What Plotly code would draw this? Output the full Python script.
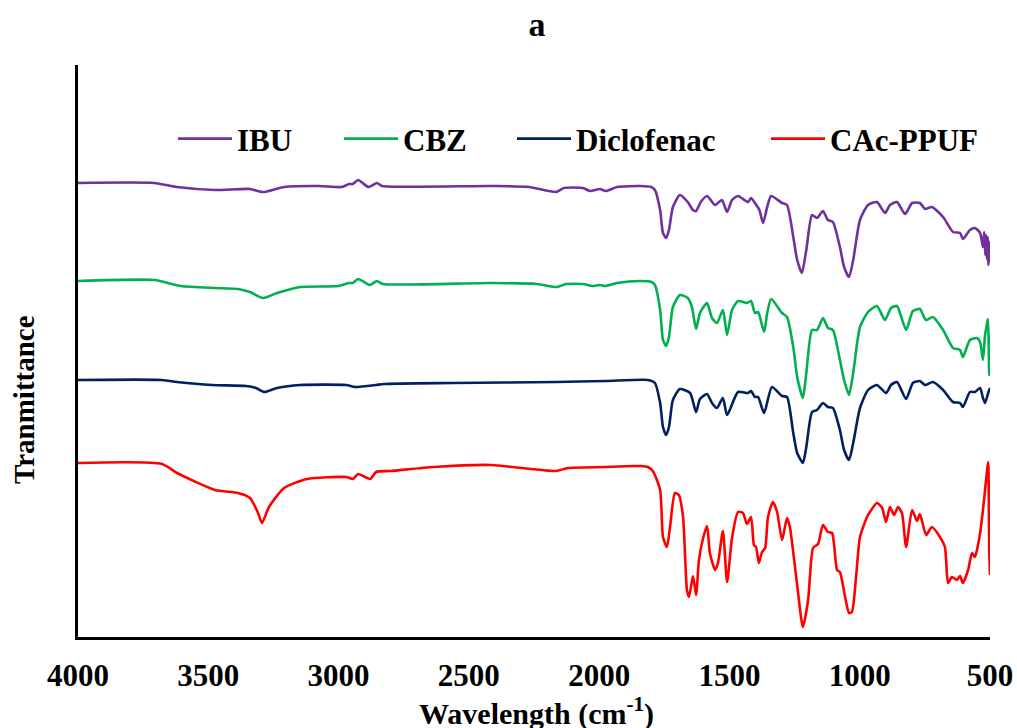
import plotly.graph_objects as go

# ---------------- data ----------------
ibu_wn = [4000, 3708, 3620, 3474, 3340, 3290, 3209, 3075, 2987, 2960, 2945, 2925, 2885, 2853, 2833,
          2415, 2269, 2166, 2135, 2062, 2035, 1997, 1974, 1931, 1843, 1800, 1786, 1766, 1755, 1743,
          1732, 1717, 1690, 1660, 1640, 1628, 1610, 1586, 1555, 1529, 1509, 1490, 1467, 1429, 1417,
          1402, 1385, 1371, 1355, 1340, 1298, 1279, 1255, 1240, 1222, 1205, 1183, 1164, 1141, 1122,
          1103, 1076, 1060, 1041, 1025, 999, 968, 934, 903, 884, 857, 826, 799, 769, 749, 723, 680,
          642, 615, 604, 577, 558, 538, 527, 522, 518, 515, 512, 509, 506, 503, 500]
ibu_t = [454, 454, 450, 447, 448, 445, 450, 451, 450, 453, 453, 457, 450, 454, 451,
         451, 450, 445, 449, 449, 446, 448, 446, 450, 451, 450, 447, 427, 404, 399,
         407, 430, 442, 435, 427, 426, 435, 441, 432, 437, 425, 437, 441, 435, 439,
         434, 427, 414, 430, 441, 434, 432, 400, 377, 364, 387, 422, 419, 426, 417,
         415, 390, 370, 360, 377, 417, 432, 435, 424, 432, 435, 423, 434, 434, 428, 430, 420,
         405, 404, 398, 407, 409, 404, 390, 405, 382, 402, 378, 400, 372, 395, 375]

cbz_wn = [4000, 3708, 3605, 3474, 3386, 3340, 3290, 3236, 3148, 3002, 2960, 2945, 2925, 2880, 2853,
          2830, 2415, 2239, 2162, 2127, 2062, 2027, 1997, 1978, 1931, 1843, 1800, 1786, 1766, 1755,
          1743, 1732, 1717, 1690, 1660, 1644, 1628, 1613, 1586, 1567, 1548, 1525, 1509, 1490, 1467,
          1433, 1417, 1402, 1390, 1367, 1355, 1340, 1298, 1279, 1255, 1240, 1218, 1205, 1183, 1164,
          1141, 1122, 1103, 1076, 1060, 1041, 1025, 999, 968, 934, 903, 880, 857, 822, 796, 769,
          746, 719, 680, 642, 615, 604, 577, 550, 538, 527, 519, 511, 508, 505, 503, 501, 500]
cbz_t = [356, 357, 351, 349, 348, 345, 339, 344, 350, 351, 354, 354, 358, 352, 356,
         353, 354, 353, 350, 353, 353, 351, 352, 351, 354, 356, 355, 352, 327, 297,
         291, 300, 330, 342, 339, 330, 308, 324, 334, 319, 314, 327, 302, 327, 336,
         334, 336, 324, 325, 305, 324, 338, 324, 320, 290, 260, 239, 264, 307, 307,
         319, 309, 307, 277, 257, 242, 264, 310, 325, 331, 317, 329, 331, 307, 326, 328,
         317, 320, 307, 289, 287, 280, 297, 299, 295, 277, 302, 314, 318, 290, 262, 300, 290]

dic_wn = [4000, 3678, 3620, 3486, 3355, 3317, 3286, 3236, 3148, 2971, 2937, 2856, 2826, 2561, 2166,
          1974, 1813, 1786, 1766, 1755, 1743, 1732, 1717, 1690, 1651, 1628, 1613, 1586, 1567, 1548,
          1525, 1509, 1467, 1429, 1417, 1402, 1390, 1367, 1337, 1298, 1279, 1255, 1240, 1218, 1205,
          1183, 1164, 1141, 1122, 1103, 1076, 1060, 1041, 1025, 999, 968, 934, 899, 880, 857, 822,
          796, 769, 749, 719, 680, 642, 615, 604, 577, 558, 538, 527, 519, 507, 500]
dic_t = [257, 257, 255, 252, 251, 249, 245, 249, 252, 252, 250, 252, 253, 254, 255,
         256, 257, 254, 234, 210, 202, 210, 237, 248, 244, 225, 238, 243, 234, 229,
         239, 222, 245, 244, 246, 240, 240, 224, 250, 241, 240, 204, 184, 174, 190,
         225, 227, 234, 230, 229, 207, 187, 177, 194, 229, 247, 252, 244, 252, 255, 238,
         254, 256, 252, 255, 247, 235, 234, 230, 245, 245, 249, 239, 234, 244, 249]

cac_wn = [4000, 3678, 3620, 3474, 3386, 3340, 3309, 3294, 3267, 3209, 3121, 2971, 2945, 2925, 2879,
          2856, 2799, 2634, 2415, 2166, 2120, 1974, 1870, 1843, 1813, 1794, 1766, 1755, 1740, 1728,
          1709, 1694, 1678, 1663, 1655, 1640, 1628, 1617, 1601, 1586, 1575, 1555, 1544, 1525, 1509,
          1490, 1467, 1448, 1433, 1417, 1406, 1398, 1387, 1375, 1363, 1352, 1333, 1317, 1298, 1279,
          1268, 1241, 1218, 1198, 1179, 1160, 1141, 1122, 1106, 1087, 1076, 1056, 1041, 1030, 1014,
          999, 972, 961, 934, 914, 899, 884, 868, 853, 838, 822, 799, 780, 769, 745, 723, 692,
          673, 661, 646, 627, 615, 604, 584, 569, 558, 550, 538, 527, 511, 507, 503, 500]
cac_t = [174, 173, 164, 147, 144, 139, 124, 114, 130, 149, 158, 160, 158, 163, 158,
         165, 166, 170, 172, 166, 169, 170, 171, 171, 170, 166, 147, 100, 90, 110,
         144, 142, 120, 47, 40, 61, 42, 77, 99, 111, 84, 67, 74, 106, 55,
         99, 125, 124, 113, 120, 92, 90, 74, 85, 89, 120, 135, 125, 97, 119,
         110, 54, 10, 37, 89, 93, 112, 105, 104, 67, 65, 40, 24, 25, 60,
         100, 120, 125, 134, 129, 115, 130, 122, 130, 124, 90, 127, 116, 123, 102, 110, 100,
         90, 54, 60, 57, 61, 54, 67, 84, 80, 87, 104, 127, 167, 175, 87, 62]

series_names = ["IBU", "CBZ", "Diclofenac", "CAc-PPUF"]
series_colors = ["#7030A0", "#00B050", "#002060", "#FF0000"]
x_ticks = [4000, 3500, 3000, 2500, 2000, 1500, 1000, 500]

FONT = "Liberation Serif"

fig = go.Figure()
data = [(ibu_wn, ibu_t), (cbz_wn, cbz_t), (dic_wn, dic_t), (cac_wn, cac_t)]
legend_ids = ["legend", "legend2", "legend3", "legend4"]
for (wn, t), name, col, lg in zip(data, series_names, series_colors, legend_ids):
    fig.add_trace(go.Scatter(x=wn, y=t, mode="lines", name=name, legend=lg,
                             line=dict(color=col, width=2.6, shape="spline", smoothing=0.6)))

W, H = 1017, 728
L, R, T, B = 78, 27, 65, 91
pw = W - L - R
ph = H - T - B


def px2x(px):
    return (px - L) / pw


def py2y(py):
    return (H - B - py) / ph


ITEMW = 54
legend_common = dict(orientation="h", xanchor="left", yanchor="middle", itemwidth=ITEMW,
                     bgcolor="rgba(0,0,0,0)", font=dict(family=FONT, size=31, color="black", weight="bold"))
text_starts = [237, 403, 576, 830]
layout_legends = {}
for lg, ts in zip(legend_ids, text_starts):
    layout_legends[lg] = dict(legend_common, x=px2x(ts - (ITEMW + 10)), y=py2y(139))

fig.update_layout(
    width=W, height=H,
    margin=dict(l=L, r=R, t=T, b=B, autoexpand=False),
    paper_bgcolor="white", plot_bgcolor="white",
    showlegend=True,
    title=dict(text="a", x=px2x(537), xref="paper", xanchor="center",
               y=1 - 24 / H, yref="container", yanchor="middle",
               font=dict(family=FONT, size=34, color="black", weight="bold")),
    xaxis=dict(range=[4000, 500], tickvals=x_ticks, ticktext=[str(v) for v in x_ticks],
               showgrid=False, zeroline=False, showline=True, linecolor="black", linewidth=3,
               ticks="", ticklabelstandoff=9, automargin=False,
               tickfont=dict(family=FONT, size=31, color="black", weight="bold")),
    yaxis=dict(range=[0, 572], showgrid=False, zeroline=False, showline=True, linecolor="black",
               linewidth=3, showticklabels=False, ticks="", automargin=False),
    annotations=[
        dict(text="Tranmittance", x=px2x(24), y=py2y(400), xref="paper", yref="paper",
             textangle=-90, showarrow=False, xanchor="center", yanchor="middle",
             font=dict(family=FONT, size=29, color="black", weight="bold")),
        dict(text="Wavelength (cm<sup>-1</sup>)", x=px2x(536), y=py2y(711), xref="paper", yref="paper",
             showarrow=False, xanchor="center", yanchor="middle",
             font=dict(family=FONT, size=30, color="black", weight="bold")),
    ],
    **layout_legends,
)

fig.write_html("out.html")
